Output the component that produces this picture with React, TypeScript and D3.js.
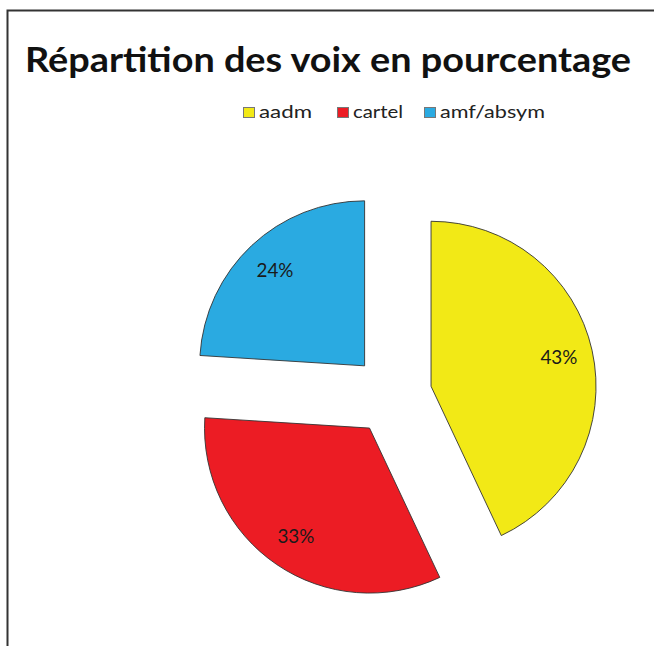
import React, { useRef, useEffect } from "react";
import * as d3 from "d3";

const categories = ["aadm", "cartel", "amf/absym"];
const values = [43, 33, 24];
const colors = ["#F2E916", "#EC1C24", "#2AAAE1"];
const titleText = "Répartition des voix en pourcentage";

const W = 654;
const H = 646;

export default function App() {
  const svgRef = useRef<SVGSVGElement | null>(null);

  useEffect(() => {
    const svg = svgRef.current;
    if (!svg) return;
    const sel = d3.select(svg);
    sel.selectAll("*").remove();

    const font = "Lato, 'Open Sans', sans-serif";

    // frame: left and top edges only (the rest is cropped)
    sel
      .append("path")
      .attr("d", `M7.5,${H} L7.5,10.5 L${W},10.5`)
      .attr("fill", "none")
      .attr("stroke", "#333")
      .attr("stroke-width", 2);

    sel
      .append("text")
      .attr("x", 25)
      .attr("y", 72)
      .attr("font-family", font)
      .attr("font-weight", 700)
      .attr("font-size", 34)
      .attr("textLength", 606)
      .attr("lengthAdjust", "spacingAndGlyphs")
      .attr("fill", "#111")
      .text(titleText);

    // legend
    const legX = [243, 337, 424];
    const legW = [53, 50, 105];
    const lg = sel.append("g");
    categories.forEach((c, i) => {
      lg.append("rect")
        .attr("x", legX[i] + 0.5)
        .attr("y", 107.5)
        .attr("width", 11)
        .attr("height", 10)
        .attr("fill", colors[i])
        .attr("stroke", "#777")
        .attr("stroke-width", 1);
      lg.append("text")
        .attr("x", legX[i] + 16)
        .attr("y", 118)
        .attr("font-family", font)
        .attr("font-size", 17)
        .attr("textLength", legW[i])
        .attr("lengthAdjust", "spacingAndGlyphs")
        .attr("fill", "#222")
        .text(c);
    });

    const cx = 392;
    const cy = 395;
    const R = 165;
    const explode = 40;

    const pie = d3
      .pie<number>()
      .sort(null)
      .value((d) => d);
    const arcs = pie(values);
    const arc = d3.arc<d3.PieArcDatum<number>>().innerRadius(0).outerRadius(R);
    const labelArc = d3
      .arc<d3.PieArcDatum<number>>()
      .innerRadius(131)
      .outerRadius(131);

    const g = sel.append("g").attr("transform", `translate(${cx},${cy})`);

    arcs.forEach((a, i) => {
      const mid = (a.startAngle + a.endAngle) / 2;
      const ox = Math.sin(mid) * explode;
      const oy = -Math.cos(mid) * explode;
      const sg = g.append("g").attr("transform", `translate(${ox},${oy})`);
      sg.append("path")
        .attr("d", arc(a) as string)
        .attr("fill", colors[i])
        .attr("stroke", "#333")
        .attr("stroke-width", 0.9);
      const [lx, ly] = labelArc.centroid(a);
      sg.append("text")
        .attr("x", lx)
        .attr("y", ly)
        .attr("dy", "0.35em")
        .attr("text-anchor", "middle")
        .attr("font-family", font)
        .attr("font-size", 19)
        .attr("textLength", 37)
        .attr("lengthAdjust", "spacingAndGlyphs")
        .attr("fill", "#1a1a1a")
        .text(`${values[i]}%`);
    });
  }, []);

  return (
    <div style={{ position: "fixed", left: 0, top: 0, width: W, height: H, background: "#fff" }}>
      <svg ref={svgRef} width={W} height={H} style={{ display: "block" }} />
    </div>
  );
}
